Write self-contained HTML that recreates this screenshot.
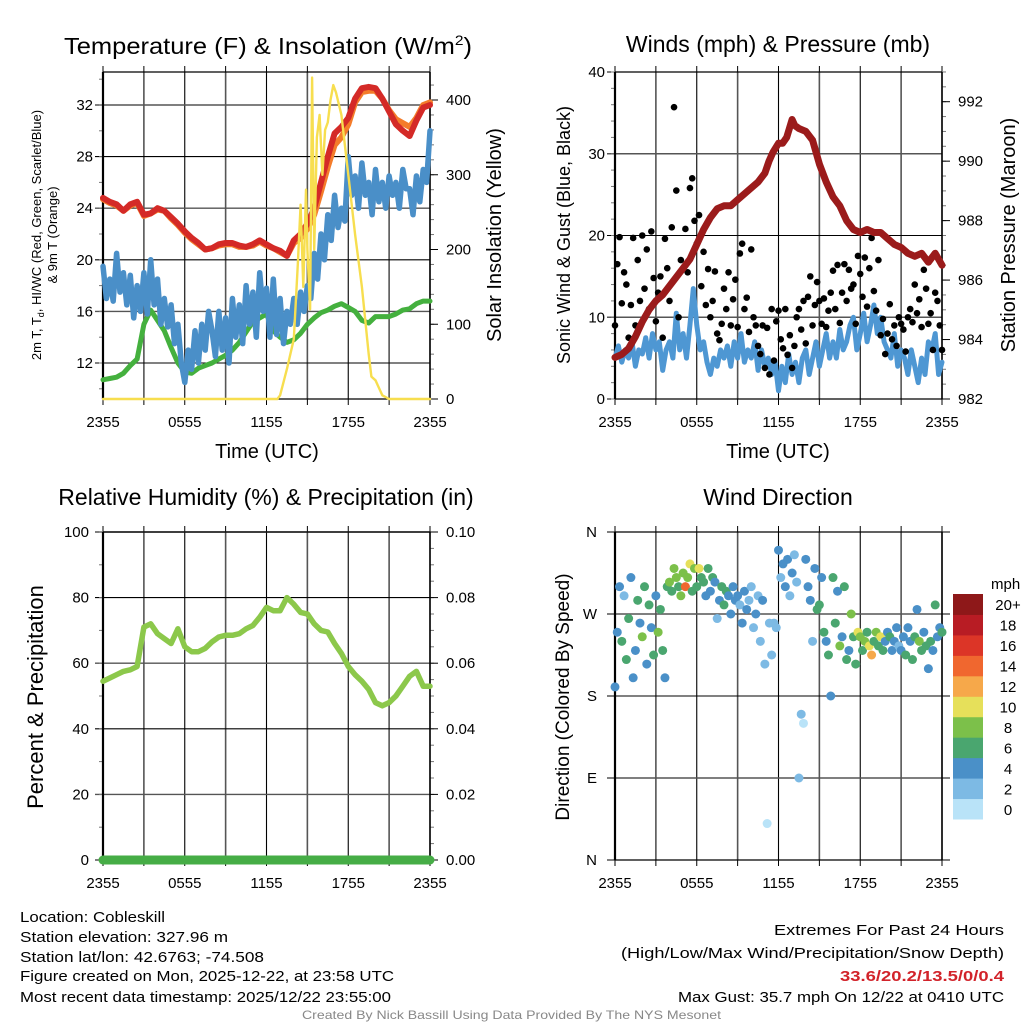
<!DOCTYPE html>
<html><head><meta charset="utf-8"><style>
html,body{margin:0;padding:0;background:#fff;}
svg{display:block;font-family:"Liberation Sans",sans-serif;}
</style></head><body>
<svg id="chart" width="1024" height="1024" viewBox="0 0 1024 1024" xmlns="http://www.w3.org/2000/svg">
<rect x="0" y="0" width="1024" height="1024" fill="#fff"/>
<text x="64" y="54" font-size="23" textLength="408" lengthAdjust="spacingAndGlyphs">Temperature (F) &amp; Insolation (W/m<tspan font-size="14" dy="-9">2</tspan><tspan dy="9">)</tspan></text>
<text x="778" y="52" font-size="23" text-anchor="middle">Winds (mph) &amp; Pressure (mb)</text>
<text x="266" y="505" font-size="23" text-anchor="middle">Relative Humidity (%) &amp; Precipitation (in)</text>
<text x="778" y="505" font-size="23" text-anchor="middle">Wind Direction</text>

<text transform="translate(41,235) rotate(-90)" font-size="13" text-anchor="middle">2m T, T<tspan font-size="9" dy="3">d</tspan><tspan dy="-3">, HI/WC (Red, Green, Scarlet/Blue)</tspan></text>
<text transform="translate(57,235) rotate(-90)" font-size="13" text-anchor="middle">&amp; 9m T (Orange)</text>
<text transform="translate(501,235) rotate(-90)" font-size="20" text-anchor="middle">Solar Insolation (Yellow)</text>
<text transform="translate(570,235) rotate(-90)" font-size="18" text-anchor="middle">Sonic Wind &amp; Gust (Blue, Black)</text>
<text transform="translate(1015,235) rotate(-90)" font-size="20" text-anchor="middle">Station Pressure (Maroon)</text>
<text transform="translate(43,697) rotate(-90)" font-size="22" text-anchor="middle">Percent &amp; Precipitation</text>
<text transform="translate(569,697) rotate(-90)" font-size="19" text-anchor="middle">Direction (Colored By Speed)</text>
<text x="267" y="458" font-size="20" text-anchor="middle">Time (UTC)</text>
<text x="778" y="458" font-size="20" text-anchor="middle">Time (UTC)</text>

<g font-size="15">
<text x="20" y="922" textLength="145" lengthAdjust="spacingAndGlyphs">Location: Cobleskill</text>
<text x="20" y="942" textLength="208" lengthAdjust="spacingAndGlyphs">Station elevation: 327.96 m</text>
<text x="20" y="962" textLength="244" lengthAdjust="spacingAndGlyphs">Station lat/lon: 42.6763; -74.508</text>
<text x="20" y="981" textLength="374" lengthAdjust="spacingAndGlyphs">Figure created on Mon, 2025-12-22, at 23:58 UTC</text>
<text x="20" y="1002" textLength="371" lengthAdjust="spacingAndGlyphs">Most recent data timestamp: 2025/12/22 23:55:00</text>
</g>
<g font-size="15">
<text x="774" y="935" textLength="230" lengthAdjust="spacingAndGlyphs">Extremes For Past 24 Hours</text>
<text x="621" y="958" textLength="383" lengthAdjust="spacingAndGlyphs">(High/Low/Max Wind/Precipitation/Snow Depth)</text>
<text x="840" y="981" textLength="164" lengthAdjust="spacingAndGlyphs" fill="#d2232a" font-weight="bold">33.6/20.2/13.5/0/0.4</text>
<text x="678" y="1002" textLength="326" lengthAdjust="spacingAndGlyphs">Max Gust: 35.7 mph On 12/22 at 0410 UTC</text>
</g>
<text x="302" y="1019" font-size="12" fill="#888" textLength="419" lengthAdjust="spacingAndGlyphs">Created By Nick Bassill Using Data Provided By The NYS Mesonet</text>
</svg>
<script>
// ---------- data ----------
const xTickLabels = ["2355","0555","1155","1755","2355"];
const tempTickLabels = [12,16,20,24,28,32];
const solarTickLabels = [0,100,200,300,400];
const windTickLabels = [0,10,20,30,40];
const presTickLabels = [982,984,986,988,990,992];
const rhTickLabels = [0,20,40,60,80,100];
const precipTickLabels = ["0.00","0.02","0.04","0.06","0.08","0.10"];
const dirTickLabels = ["N","E","S","W","N"];
const speedBins = ["0","2","4","6","8","10","12","14","16","18","20+"];
const tempRed = [24.8,24.5,24.3,23.8,24.3,24.5,23.5,23.6,24.0,23.8,23.3,22.8,22.2,21.7,21.3,20.8,20.9,21.2,21.3,21.3,21.1,21.0,21.2,21.5,21.2,20.9,20.7,20.3,21.5,22.0,22.8,24.0,26.0,28.0,29.8,30.3,31.0,32.5,33.3,33.4,33.3,32.5,31.5,30.5,30.0,29.6,30.8,31.8,32.0];
const temp9m = [24.7,24.4,24.2,23.8,24.2,24.4,23.4,23.6,23.9,23.8,23.2,22.7,22.1,21.6,21.2,20.8,20.9,21.1,21.2,21.2,21.0,21.0,21.1,21.4,21.1,20.9,20.6,20.3,21.3,21.7,22.4,23.5,25.3,27.2,28.9,29.5,30.5,32.2,33.0,33.1,33.1,32.5,31.6,30.9,30.6,30.3,31.0,32.0,32.2];
const dewGreen = [10.7,10.8,10.9,11.2,11.8,12.3,15.0,16.1,15.3,14.5,13.2,12.0,11.3,11.2,11.6,11.8,12.0,12.3,12.6,13.0,13.6,14.4,15.2,15.5,15.8,14.5,14.0,13.6,13.8,14.3,15.0,15.5,15.9,16.1,16.4,16.6,16.3,16.0,15.3,15.1,15.6,15.6,15.6,15.8,16.1,16.2,16.6,16.8,16.8];
const windChill = [19.5,17,18.5,16.8,20.5,17.5,19,16.5,18.8,15.5,18,16,19,15.8,20,16.5,18.5,15,17,14.8,16.5,13.5,15,12,10.5,13,11.5,14.5,12,15,13,16,14.5,12.5,16,13,15.5,12,17,14,16.5,13.5,18,15,17.5,14,19,16,17.8,14,18.5,14.2,17,13.5,16,15,17,15,17.5,16,18,17,20.5,18.5,22,20,23.5,21.5,25,22.5,24,23,28,25,26.5,24,27.5,25,26,23.5,27,24.5,26,24,26.5,25,26,24,27,25.5,25.5,23.5,26.5,24.5,27,26,30];
const solarHours = [0,12.8,13,13.5,14,14.3,14.5,14.7,14.9,15.0,15.2,15.35,15.5,15.7,15.9,16.1,16.3,16.5,16.7,16.9,17.1,17.5,18,18.5,19,19.5,19.7,20,20.5,21,24];
const solarValues = [0,0,5,40,80,180,260,150,280,200,120,430,200,350,380,300,360,370,400,420,410,380,300,220,150,60,30,25,5,0,0];
const presHours = [0,0.5,1,1.5,2,2.5,3,3.5,4,4.5,5,5.5,6,6.5,7,7.5,8,8.5,9,9.5,10,10.5,11,11.3,11.6,12,12.3,12.6,13,13.2,13.5,14,14.5,15,15.5,16,16.5,17,17.5,18,18.5,19,19.5,20,20.5,21,21.5,22,22.5,23,23.5,24];
const presValues = [983.4,983.5,983.7,984.1,984.6,985.0,985.3,985.5,985.8,986.1,986.4,986.7,987.2,987.7,988.1,988.4,988.5,988.5,988.7,988.9,989.1,989.3,989.6,990.0,990.3,990.6,990.6,990.8,991.4,991.2,991.1,991.0,990.7,989.9,989.3,988.8,988.5,988.0,987.7,987.6,987.7,987.6,987.6,987.4,987.2,987.1,986.9,986.8,986.9,986.6,986.9,986.5];
const windSpeed = [5,6.5,4.5,6,5,7,4,6,5.5,7.5,5,8,6,7,3.5,6,7,5,10.5,6,8,5,9,13.5,9,6,7,4.5,3,5,4,6,5,6.5,4,7,5,8,4.5,6,5,7,3.5,6,4,5,3,4.5,1,4,2,5.5,3,4.5,2,5,6,3,5,7,4,6,8,5,7,5,8.5,6,7,9,10,6,8,10.5,7,9,11.5,8,10,7,6,5,8,4,6,5,3,6,4,2,5,3,7,6,8,3,4.5];
const gusts = [9,16.5,19.8,11.7,15.5,14,7.5,11.5,19.7,9,17,12,20,13.5,18.3,11,20.5,14.8,9.5,13,15,7.5,19.6,16,12,21,35.7,25.5,10,17,16,20.8,15.5,25.8,27,21.8,19,22.5,13.8,18,11.5,15.9,10,12,15.6,8,7.2,9.2,13.5,11,15.5,9,12.2,14.6,8.8,17.8,19,11,12.4,8.2,18.3,10,9,6.5,5.5,9,3.8,8.7,3,11,4.7,9.5,10.8,7.3,6.2,11,5.4,7.8,3.8,6.5,10,11,8.5,12,6.8,12.5,15,9,11.5,14.3,12,9.2,12.3,8.8,10.8,13,15.7,11,16.4,9.3,13,16.5,12,15.8,13.5,14,9.2,17.5,15.3,12.5,17.3,11.3,16,19.7,13.2,10.8,17,7.8,9.8,5.5,8,11.6,7.3,9,6.5,10,9.2,8.5,5.8,10,11,9.4,14,10.5,12.2,8.8,15.8,13.5,9.2,10.5,6,13,12,9,6];
const dirValues = [190,250,300,240,290,220,265,310,200,230,285,260,245,300,215,280,255,225,290,250,275,230,200,300,305,295,320,310,300,290,315,300,310,325,295,320,300,320,310,305,290,320,295,310,305,265,285,300,280,295,290,270,300,285,290,280,260,295,275,285,300,255,270,290,240,285,215,40,260,225,260,255,340,310,325,300,330,290,315,335,305,90,160,150,330,300,285,240,320,275,280,310,250,240,225,180,310,260,295,235,245,300,220,230,270,245,215,250,245,230,240,250,235,225,240,250,235,245,230,240,250,245,230,240,255,235,230,245,225,255,240,220,245,275,240,230,250,235,210,240,230,280,245,255,250];
const dirSpeeds = [4,4,4,6,3,6,6,4,4,5,6,4,8,6,4,7,5,6,4,8,6,7,4,7,8,7,9,8,6,8,9,14,8,10,7,8,7,10,6,7,5,6,4,6,5,3,4,7,7,6,4,5,4,5,4,3,4,5,4,3,3,2,4,3,2,4,2,1,3,2,3,2,4,3,4,5,4,3,4,3,2,3,3,1,4,5,4,3,4,6,7,5,6,4,7,5,6,7,4,8,4,6,7,4,8,6,7,10,8,7,9,6,10,12,7,9,6,10,7,5,4,6,5,4,5,3,4,5,7,4,5,6,7,5,8,6,5,7,4,6,5,7,4,5,6];
const rhValues = [54.5,55.5,56.5,57.5,58,59,71,72,69,67.5,66,70.5,65,63.5,63.5,64.5,66.5,68,68.5,68.5,69,70.5,71.5,74,77,76,76,80,78,75.5,75,72,70,69.5,66,63,59,56.5,54.5,52,48,47,48,50,53,56,57.5,53,53];
const precipValues = [0,0,0,0,0,0,0,0,0,0,0,0,0,0,0,0,0,0,0,0,0,0,0,0,0,0,0,0,0,0,0,0,0,0,0,0,0,0,0,0,0,0,0,0,0,0,0,0,0];

const speedColors = ["#b9e3f8","#7dbae4","#4a90c8","#4aa66f","#7cc04a","#e6e05a","#f6a84a","#f0672f","#dc3527","#b81c24","#8e1819"];

const NS="http://www.w3.org/2000/svg";
const svg=document.getElementById('chart');
function mk(tag,attrs,parent){const e=document.createElementNS(NS,tag);for(const k in attrs)e.setAttribute(k,attrs[k]);(parent||svg).appendChild(e);return e;}
function lin(d0,d1,r0,r1){return v=>r0+(v-d0)/(d1-d0)*(r1-r0);}
function hoursOf(n){const a=[];for(let i=0;i<n;i++)a.push(i*24/(n-1));return a;}

function framePanel(name,L,T,R,B,gridLeftVals,yL,gridRightTicks,yR,minorL,minorR){
  const g=mk('g',{});
  
  
  const xs=lin(0,24,L,R);
  for(let i=0;i<=8;i++){
    const x=xs(i*3);
    const vl=mk('line',{x1:x,x2:x,y1:T,y2:B,stroke:i%2?'#555':'#000','stroke-width':i%2?1.6:1.1},g);
    
    
    const tk=mk('line',{x1:x,x2:x,y1:T-6,y2:T,stroke:'#000','stroke-width':1},g);
    
    
    const tb=mk('line',{x1:x,x2:x,y1:B,y2:B+6,stroke:'#000','stroke-width':1},g);
    
    
  }
  xTickLabels.forEach((lab,i)=>{
    const t=mk('text',{x:xs(i*6),y:B+28,'font-size':15,'text-anchor':'middle'},g);
    
    
    t.textContent=lab;
  });
  gridLeftVals.forEach((v,i)=>{
    const y=yL(v);
    const hl=mk('line',{x1:L-8,x2:R,y1:y,y2:y,stroke:i%2?'#555':'#000','stroke-width':i%2?1.4:1.1},g);
    
    
  });
  (minorL||[]).forEach(v=>{const y=yL(v);const m=mk('line',{x1:L-4,x2:L,y1:y,y2:y,stroke:'#777'},g);
    
    });
  (minorR||[]).forEach(v=>{const y=yR(v);const m=mk('line',{x1:R,x2:R+4,y1:y,y2:y,stroke:'#777'},g);
    
    });
  gridRightTicks.forEach(v=>{const y=yR(v);const m=mk('line',{x1:R,x2:R+8,y1:y,y2:y,stroke:'#000'},g);
    
    });
  const lb=mk('line',{x1:L,x2:L,y1:T,y2:B,stroke:'#000','stroke-width':2.2},g);
  
  
  const rb=mk('line',{x1:R,x2:R,y1:T,y2:B,stroke:'#000','stroke-width':1.6},g);
  
  
  const tb=mk('line',{x1:L,x2:R,y1:T,y2:T,stroke:'#000','stroke-width':1.2},g);
  
  
  const bb=mk('line',{x1:L,x2:R,y1:B,y2:B,stroke:'#000','stroke-width':1.2},g);
  
  
  return xs;
}
function leftLabels(name,vals,texts,yL,x){vals.forEach((v,i)=>{const t=mk('text',{x:x,y:yL(v)+5,'font-size':15,'text-anchor':'end'});
  
  
  t.textContent=texts[i];});}
function rightLabels(name,vals,texts,yR,x){vals.forEach((v,i)=>{const t=mk('text',{x:x,y:yR(v)+5,'font-size':15,'text-anchor':'start'});
  
  
  t.textContent=texts[i];});}
function poly(name,hrs,vals,xs,ys,color,w){
  const d=vals.map((v,i)=>(i?'L':'M')+xs(hrs[i]).toFixed(1)+','+ys(v).toFixed(1)).join('');
  const p=mk('path',{d:d,fill:'none',stroke:color,'stroke-width':w,'stroke-linejoin':'round','stroke-linecap':'round'});
  
  
  return p;
}
function range(a,b,s){const r=[];for(let v=a;v<=b+1e-9;v+=s)r.push(+v.toFixed(4));return r;}

{
 const L=103,R=430,T=72,B=399;
 const yT=lin(12,32,363,105);
 const yS=lin(0,400,399,100);
 const xs=framePanel('temp',L,T,R,B,tempTickLabels,yT,solarTickLabels,yS,range(10,34,2),range(0,430,20));
 leftLabels('temp',tempTickLabels,tempTickLabels.map(String),yT,L-10);
 rightLabels('solar',solarTickLabels,solarTickLabels.map(String),yS,R+16);
 const h2=hoursOf(tempRed.length), h4=hoursOf(windChill.length);
 poly('dewpoint-line',h2,dewGreen,xs,yT,'#44b03e',5);
 poly('wind-chill-line',h4,windChill,xs,yT,'#4a8fc8',5.5);
 poly('temp-9m-line',h2,temp9m,xs,yT,'#f47c2a',6);
 poly('temp-2m-line',h2,tempRed,xs,yT,'#d42a27',6);
 poly('solar-insolation-line',solarHours,solarValues,xs,yS,'#f7de4f',2.4);
}
{
 const L=615,R=942,T=72,B=399;
 const yW=lin(0,40,399,72);
 const yP=lin(982,992,399,101.7);
 const xs=framePanel('wind',L,T,R,B,windTickLabels,yW,presTickLabels,yP,range(0,40,2),range(982,993,0.5));
 leftLabels('wind',windTickLabels,windTickLabels.map(String),yW,L-10);
 rightLabels('pressure',presTickLabels,presTickLabels.map(String),yP,R+16);
 poly('sonic-wind-line',hoursOf(windSpeed.length),windSpeed,xs,yW,'#4e97d3',5);
 const hg=hoursOf(gusts.length);
 gusts.forEach((v,i)=>{const c=mk('circle',{cx:xs(hg[i]),cy:yW(v),r:3.3,fill:'#000'});
  
  });
 poly('pressure-line',presHours,presValues,xs,yP,'#9b1b1b',7);
}
{
 const L=103,R=430,T=532,B=860;
 const yH=lin(0,100,860,532);
 const yPr=lin(0,0.1,860,532);
 const xs=framePanel('rh',L,T,R,B,rhTickLabels,yH,[0,0.02,0.04,0.06,0.08,0.1],yPr,range(0,100,10),range(0,0.1,0.005));
 leftLabels('rh',rhTickLabels,rhTickLabels.map(String),yH,L-14);
 rightLabels('precip',[0,0.02,0.04,0.06,0.08,0.1],precipTickLabels,yPr,R+16);
 poly('relative-humidity-line',hoursOf(rhValues.length),rhValues,xs,yH,'#8cc84b',5.5);
 poly('precipitation-line',hoursOf(precipValues.length),precipValues,xs,yPr,'#46ad46',9);
}
{
 const L=615,R=942,T=532,B=860;
 const yD=lin(0,360,860,532);
 const xs=framePanel('direction',L,T,R,B,[0,90,180,270,360],yD,[],yD,[],[]);
 [0,90,180,270,360].forEach(v=>{const l=mk('line',{x1:R,x2:R+8,y1:yD(v),y2:yD(v),stroke:'#000'});
  
  });
 leftLabels('direction',[0,90,180,270,360],dirTickLabels,yD,L-18);
 const hd=hoursOf(dirValues.length);
 dirValues.forEach((v,i)=>{
  const bin=Math.min(10,Math.max(0,Math.floor(dirSpeeds[i]/2)));
  const c=mk('circle',{cx:xs(hd[i]),cy:yD(v),r:4.5,fill:speedColors[bin]});
  
  
 });
 const cb=mk('g',{});
 
 
 const cx0=953,cw=30,cTop=594,cBot=819,n=speedBins.length,ch=(cBot-cTop)/n;
 speedBins.forEach((lab,i)=>{
  const y=cBot-(i+1)*ch;
  const r=mk('rect',{x:cx0,y:y,width:cw,height:ch+0.5,fill:speedColors[i]},cb);
  
  
  const t=mk('text',{x:1008,y:y+ch/2+6,'font-size':15,'text-anchor':'middle'},cb);
  
  
  t.textContent=lab;
 });
 const u=mk('text',{x:991,y:589,'font-size':15},cb);
 
 
 u.textContent='mph';
}
</script>
</body></html>
